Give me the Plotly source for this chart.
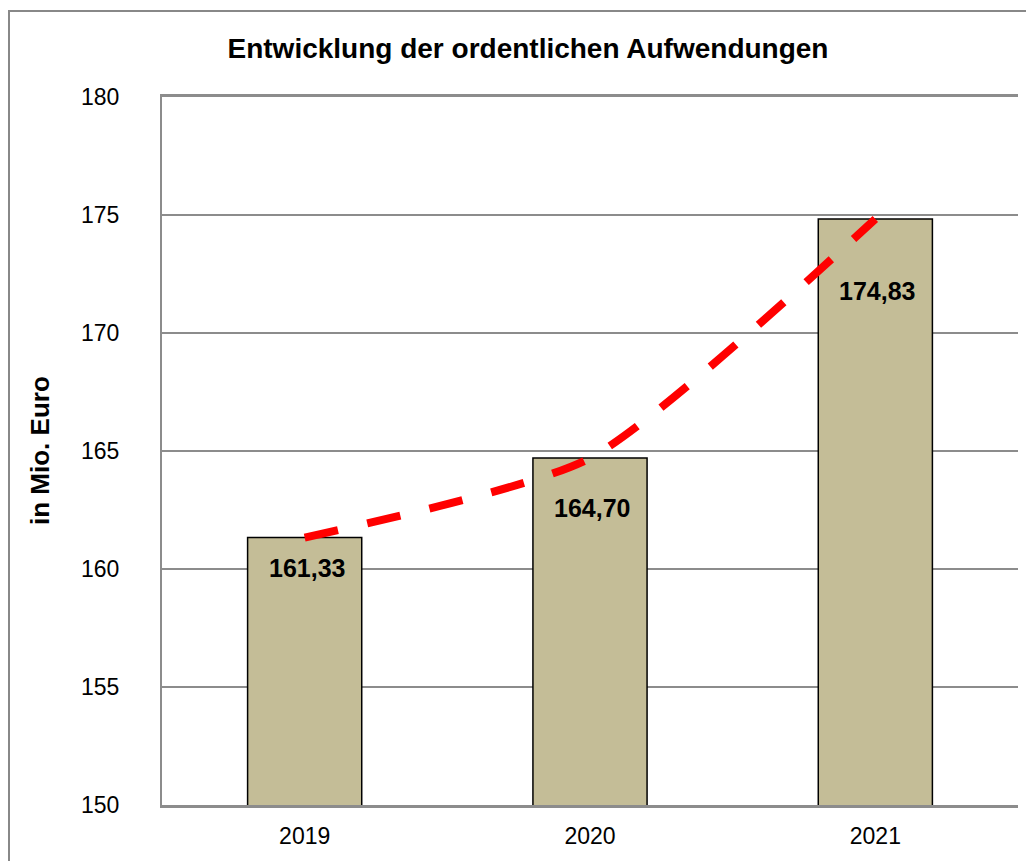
import plotly.graph_objects as go

years = ["2019", "2020", "2021"]
values = [161.33, 164.70, 174.83]
labels = ["161,33", "164,70", "174,83"]
label_shift = [-14, -34, -56]  # label offset below bar top, px
y_ticks = [150, 155, 160, 165, 170, 175, 180]

OFF = 8  # default page margin
W, H = 1034 - OFF, 861 - OFF
L, T = 162 - OFF, 97 - OFF
R = W - (1018 - OFF)
B = H - (805 - OFF)
pw, ph = W - L - R, H - T - B
FONT = "Liberation Sans, Arial"

fig = go.Figure()
fig.add_trace(go.Bar(
    x=years, y=values,
    marker=dict(color="#C4BD97", line=dict(color="black", width=1.5)),
    showlegend=False, hoverinfo="skip",
))
fig.add_trace(go.Scatter(
    x=years, y=values, mode="lines",
    line=dict(color="#FF0000", width=8, dash="34px,30px", shape="spline", smoothing=0.6),
    showlegend=False, hoverinfo="skip",
))
for i, (v, t, s) in enumerate(zip(values, labels, label_shift)):
    fig.add_annotation(x=i, y=v, text="<b>" + t + "</b>", showarrow=False,
                       xanchor="center", yanchor="top", yshift=s, xshift=2,
                       font=dict(family=FONT, size=25, color="black"))

fig.add_annotation(xref="paper", yref="paper", x=(40 - OFF - L) / pw, y=0.5,
                   xanchor="center", yanchor="middle",
                   text="<b>in Mio. Euro</b>", textangle=-90, showarrow=False,
                   font=dict(family=FONT, size=26, color="black"))

fig.add_shape(type="rect", xref="paper", yref="paper",
              x0=(1 - L) / pw, x1=1.2, y0=-0.3, y1=(H - B - (11 - OFF)) / ph,
              line=dict(color="#888888", width=2), fillcolor="rgba(0,0,0,0)", layer="above")

fig.update_layout(
    width=W, height=H,
    margin=dict(l=L, r=R, t=T, b=B, autoexpand=False),
    paper_bgcolor="white", plot_bgcolor="white",
    font=dict(family=FONT, size=23, color="black"),
    title=dict(text="<b>Entwicklung der ordentlichen Aufwendungen</b>",
               x=(528 - OFF) / W, xanchor="center", y=1 - (48 - OFF) / H, yanchor="middle",
               font=dict(family=FONT, size=28, color="black")),
    bargap=0.6,
)
fig.update_yaxes(range=[150, 180], tickvals=y_ticks, showgrid=True,
                 gridcolor="#8C8C8C", gridwidth=2, zeroline=False,
                 showline=True, linecolor="#8C8C8C", linewidth=2,
                 ticks="", ticklabelstandoff=36, automargin=False)
fig.update_xaxes(type="category", range=[-0.5, 2.5], showgrid=False, showline=True,
                 mirror=True, linecolor="#8C8C8C", linewidth=2.5, ticks="",
                 ticklabelstandoff=9, automargin=False)

fig.write_html("out.html")
